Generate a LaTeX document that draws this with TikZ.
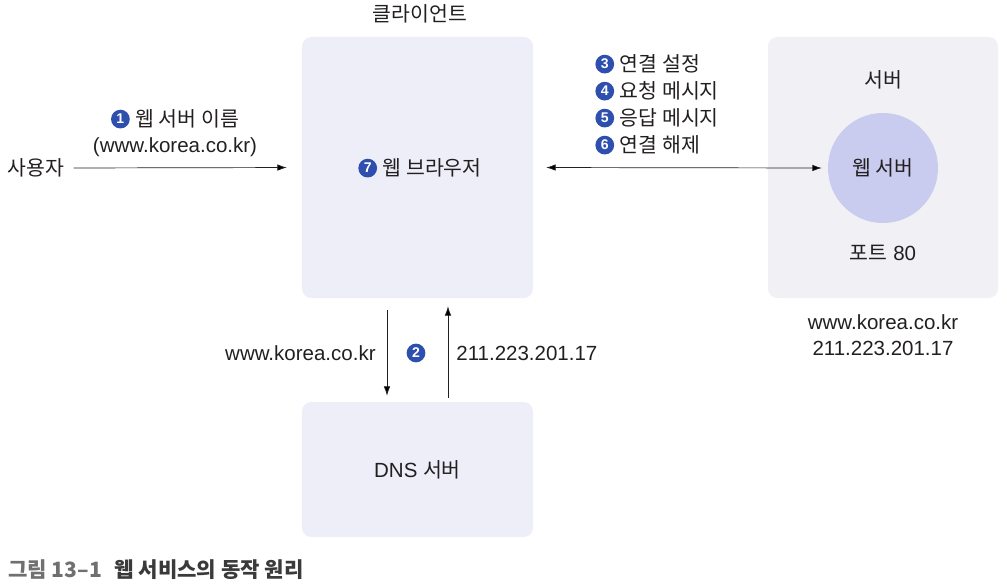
\documentclass[tikz,border=0pt]{standalone}
\usepackage{fontspec}
\setmainfont{Liberation Sans}
\newfontfamily\kr{Noto Sans CJK KR}
\usetikzlibrary{arrows.meta,positioning}
\definecolor{clientfill}{HTML}{EEEEF8}
\definecolor{serverfill}{HTML}{F0F0F5}
\definecolor{webfill}{HTML}{C9CBEF}
\definecolor{numblue}{HTML}{2F4FAE}
\definecolor{capgray}{HTML}{707070}
\definecolor{capdark}{HTML}{3A3A3A}
\definecolor{ink}{HTML}{231F20}
\newcommand{\numdot}[1]{\tikz[baseline=-0.36em]\node[circle,fill=numblue,text=white,inner sep=0pt,minimum size=16pt,font=\fontsize{12}{12}\selectfont\bfseries]{#1};}
\tikzset{
  panel/.style={rounded corners=8pt,fill=clientfill,draw=none,inner sep=0pt},
  lbl/.style={font=\fontsize{17.5}{22}\selectfont,text=ink,inner sep=1pt},
  conn/.style={-{Latex[length=8pt,width=5.5pt]},line width=0.6pt,draw=ink}
}
\begin{document}
\begin{tikzpicture}[x=0.03cm,y=-0.03cm]
\useasboundingbox (0,0) rectangle (1007,586);

\node[panel,minimum width=6.93cm,minimum height=7.83cm] (client) at (417.5,167.5) {};
\node[panel,fill=serverfill,minimum width=6.9cm,minimum height=7.83cm] (server) at (883,167.5) {};
\node[panel,minimum width=6.93cm,minimum height=4.05cm,lbl] (dns) at (417.5,469.5) {DNS {\kr 서버}};
\node[circle,fill=webfill,minimum size=3.3cm,lbl] (web) at (883,168) {\kr 웹 서버};

\node[lbl] (clientlbl) at (420,14) {\kr 클라이언트};
\node[lbl] (browser) at (420,168) {\numdot{7} {\kr 웹 브라우저}};
\node[lbl] (serverlbl) at (883,80) {\kr 서버};
\node[lbl] (port) at (883,253) {{\kr 포트} 80};
\node[lbl,align=center] (addr) at (883,335) {www.korea.co.kr\\211.223.201.17};

\node[lbl] (user) at (36,168) {\kr 사용자};
\node[lbl,align=center] (name) at (175,133) {\numdot{1} {\kr 웹 서버 이름}\\(www.korea.co.kr)};

\node[lbl,anchor=west] (step3) at (594,64) {\numdot{3} {\kr 연결 설정}};
\node[lbl,anchor=west] (step4) at (594,91) {\numdot{4} {\kr 요청 메시지}};
\node[lbl,anchor=west] (step5) at (594,118) {\numdot{5} {\kr 응답 메시지}};
\node[lbl,anchor=west] (step6) at (594,145) {\numdot{6} {\kr 연결 해제}};

\node[lbl,anchor=east] (query) at (377,353) {www.korea.co.kr};
\node[lbl] (step2) at (416,353) {\numdot{2}};
\node[lbl,anchor=west] (answer) at (455,353) {211.223.201.17};

\draw[conn,shorten <=0.24cm,shorten >=0.45cm] (user.east) -- (client.west);
\draw[conn,{Latex[length=8pt,width=5.5pt]}-{Latex[length=8pt,width=5.5pt]},shorten <=0.39cm,shorten >=0.18cm] (client.east) -- (web.west);

\coordinate (downx) at (387,0);
\coordinate (upx) at (448,0);
\draw[conn,shorten <=0.36cm,shorten >=0.18cm] (client.south -| downx) -- (dns.north -| downx);
\draw[conn,shorten <=0.12cm,shorten >=0.24cm] (dns.north -| upx) -- (client.south -| upx);

\node[anchor=west,font=\fontsize{18}{20}\selectfont\kr\bfseries] (caption) at (4,570)
  {{\color{capgray}그림 13–1}\hspace{0.6em}{\color{capdark}웹 서비스의 동작 원리}};
\end{tikzpicture}
\end{document}
